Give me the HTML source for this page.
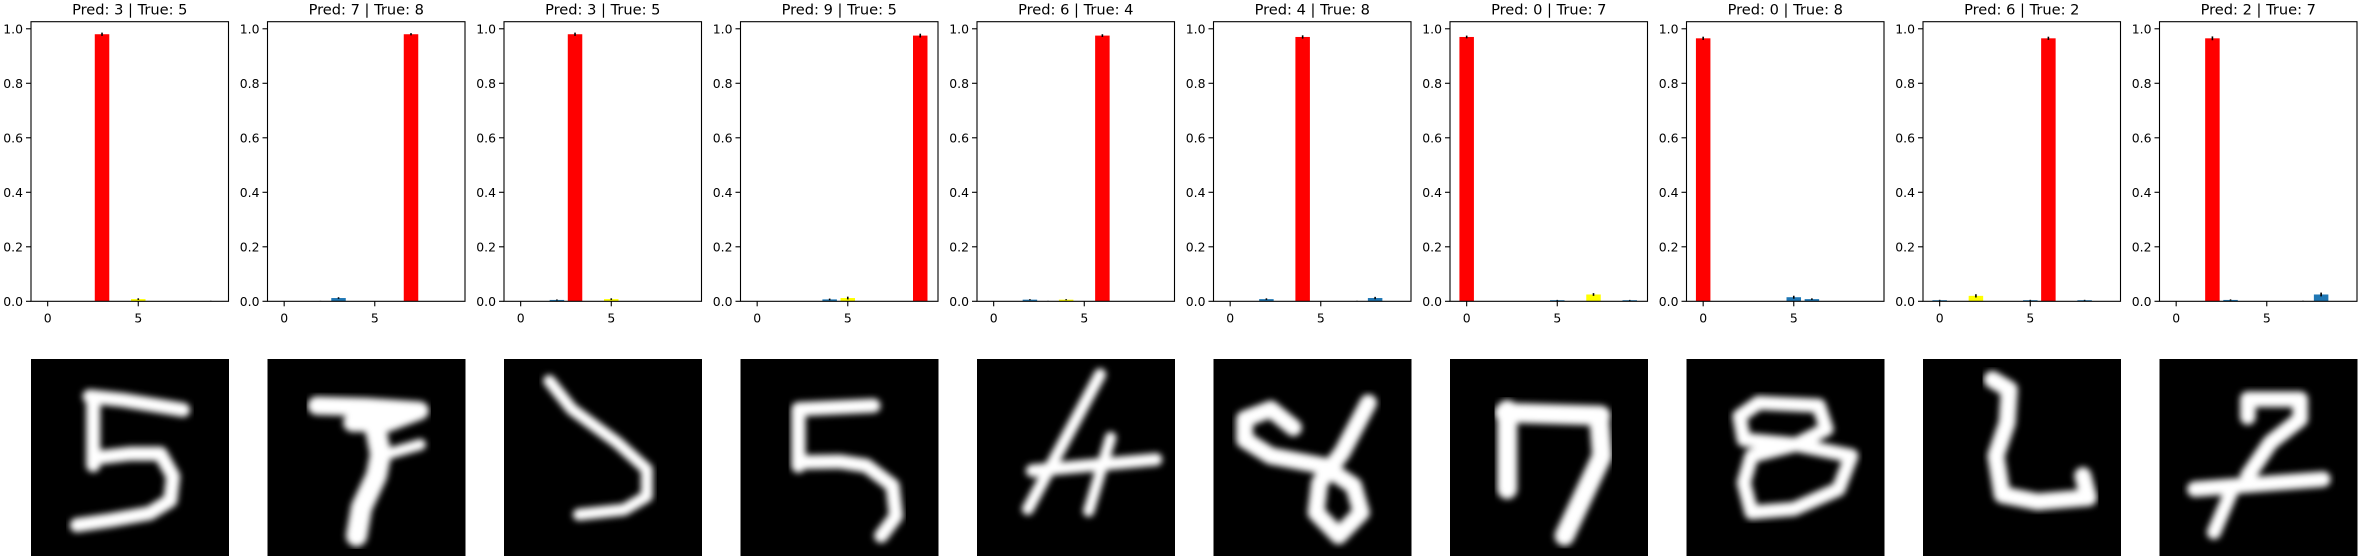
<!DOCTYPE html>
<html><head><meta charset="utf-8">
<style>
html,body{margin:0;padding:0;background:#fff;}
svg{display:block;}
text{font-family:"DejaVu Sans","Liberation Sans",sans-serif;fill:#000;}
</style></head>
<body>
<svg id="fig" width="2358" height="556" viewBox="0 0 2358 556" xmlns="http://www.w3.org/2000/svg">
<defs><filter id="soft" x="-10%" y="-10%" width="120%" height="120%"><feGaussianBlur stdDeviation="0.45"/></filter></defs>
</svg>
<script>
// ---- data ----
const classes = [0,1,2,3,4,5,6,7,8,9];
const preds = [3,7,3,9,6,4,0,0,6,2];
const trues = [5,8,5,5,4,8,7,8,2,7];
const probs1 = [0,0,0,0.98,0,0.008,0,0,0,0.001];
const probs2 = [0,0,0.001,0.012,0,0,0,0.98,0,0];
const probs3 = [0,0,0.005,0.98,0,0.008,0,0,0,0];
const probs4 = [0,0,0,0,0.007,0.012,0,0,0,0.975];
const probs5 = [0,0,0.006,0.001,0.006,0,0.975,0,0,0];
const probs6 = [0,0,0.008,0,0.97,0,0,0.001,0.012,0];
const probs7 = [0.97,0,0,0,0,0.004,0,0.025,0,0.004];
const probs8 = [0.965,0,0,0,0,0.015,0.008,0,0,0];
const probs9 = [0.004,0,0.02,0,0,0.004,0.965,0,0.004,0];
const probs10 = [0,0,0.965,0.005,0,0,0,0.001,0.025,0];
const errs = [0.006,0.004,0.006,0.007,0.005,0.006,0.005,0.006,0.006,0.007];
const allProbs = [probs1,probs2,probs3,probs4,probs5,probs6,probs7,probs8,probs9,probs10];
const yTicks = [0,0.2,0.4,0.6,0.8,1.0];
const yTickLabels = ["0.0","0.2","0.4","0.6","0.8","1.0"];
const xTicks = [0,5];
const xTickLabels = ["0","5"];
// which bars render yellow (as seen in the reference)
const yellowIdx = [[5],[],[5],[5],[4],[],[7],[],[2],[]];

// digit strokes in 28x28 grid coords: [strokeWidth, points...]
const digits = [
 [[2.0,[[8.3,5.3],[13,5.8],[21.5,7.2]]],[2.0,[[8.8,5.4],[8.8,15]]],[2.0,[[9,14],[14,13.4],[18.3,13.4],[20.1,16.6],[19.7,20],[16.8,21.8],[11.2,22.8],[6.5,23.5]]]],
 [[2.6,[[7,6.6],[14,6.8],[21.5,7.3],[17,9],[12,9]]],[3,[[15.2,9.5],[16,13.5],[15.4,16.5],[13.3,21],[12.6,25]]],[1.6,[[16,13.7],[21.6,12.1]]]],
 [[1.7,[[6.4,3.1],[9.6,7.1],[16,11.8],[20.2,15.6],[20.2,19.4],[17,21.3],[10.6,22]]]],
 [[2.0,[[18.8,6.6],[8.2,7.1],[8.2,15.1]]],[2.0,[[8.6,14.6],[14,14.5],[17.8,15.1],[21.5,17.9],[22,22.2],[19.9,25]]]],
 [[1.7,[[17.4,2.2],[7.2,21.2]]],[1.6,[[18.9,11.1],[15.8,21.5]]],[1.8,[[7.8,15.8],[25.3,14.2]]]],
 [[2.4,[[11.3,9.7],[8.1,7.1],[4.4,8.5],[4.4,11.4],[8.1,13.7],[15.5,15.1],[19.8,17.9],[20.9,21.7],[17.7,25],[14.5,21.7],[15,17.5],[18.2,13.2],[21.9,6.2]]]],
 [[2.8,[[8.1,7.2],[8.1,18.4]]],[2.8,[[7.7,7.6],[21.3,8.0]]],[2.8,[[21.1,8.5],[21.5,13.7],[16.2,25]]]],
 [[2.0,[[10.2,6.2],[18.7,6.6],[19.8,9.9],[15.5,12.1],[8.1,11.4],[7.5,8.1],[10.2,6.2]]],[2.0,[[15.5,12.1],[23.3,13.7],[21.5,18.4],[15.2,21.2],[9.2,21.7],[8.1,17.5],[9.2,13.7],[15.5,12.1]]]],
 [[2.4,[[9.8,2.9],[12.2,4.3],[11.9,9],[10.3,13.7],[11.2,19.2],[16.2,20.2],[23.4,19.6],[22.6,16.5]]]],
 [[2.2,[[12.5,8.2],[12.5,5.7],[19.9,5.7],[19.9,8.5],[15.7,11.8],[12.5,16.5]]],[2.2,[[5,18.4],[23.1,17]]],[2.0,[[10.3,18.4],[7.7,24.5]]]]
];

// ---- layout ----
const NS = "http://www.w3.org/2000/svg";
const svg = document.getElementById('fig');
const axLeft0 = 31, pitch = 236.5, axW = 197.5;
const axTop = 21.7, axBot = 301.3;
const yMin = 0, yMax = 1.026;
const xMin = -0.92, xMax = 9.98;
const imgTop = 359, imgSize = 198;
function mk(tag, attrs, parent){const e=document.createElementNS(NS,tag);for(const k in attrs)e.setAttribute(k,attrs[k]);(parent||svg).appendChild(e);return e;}

allProbs.forEach((probs, p) => {
  const L = axLeft0 + p*pitch;
  const sx = v => L + (v - xMin)/(xMax - xMin)*axW;
  const sy = v => axBot - (v - yMin)/(yMax - yMin)*(axBot - axTop);
  const g = mk('g', {});
  
  
  const t = mk('text', {x: L + axW/2, y: 14.5, 'text-anchor':'middle', 'font-size':'14.6'}, g);
  t.textContent = 'Pred: ' + preds[p] + ' | True: ' + trues[p];
  
  
  // bars
  classes.forEach((c, i) => {
    const v = probs[i];
    let col = '#1f77b4';
    if (yellowIdx[p].includes(c)) col = '#ffff00';
    if (c === preds[p]) col = '#ff0000';
    const w = 0.8;
    if (v > 0) {
      const r = mk('rect', {x: sx(c - w/2), y: sy(v), width: sx(c + w/2) - sx(c - w/2), height: sy(0) - sy(v), fill: col}, g);
      
      
    }
    const e = errs[p] * (v > 0.5 ? 1 : Math.max(0.15, Math.min(1, v*60)));
    const eb = mk('line', {x1: sx(c), x2: sx(c), y1: sy(v + e), y2: sy(Math.max(0, v - e)), stroke:'#000', 'stroke-width': 1.6}, g);
    
    
  });
  // axes frame
  const fr = mk('rect', {x: L, y: axTop, width: axW, height: axBot - axTop, fill:'none', stroke:'#000', 'stroke-width': 1.1}, g);
  
  
  yTicks.forEach((v, i) => {
    mk('line', {x1: L - 5, x2: L, y1: sy(v), y2: sy(v), stroke:'#000', 'stroke-width': 1.1}, g);
    const tl = mk('text', {x: L - 8, y: sy(v) + 4.5, 'text-anchor':'end', 'font-size':'12.4'}, g);
    tl.textContent = yTickLabels[i];
    
    
  });
  xTicks.forEach((v, i) => {
    mk('line', {x1: sx(v), x2: sx(v), y1: axBot, y2: axBot + 5, stroke:'#000', 'stroke-width': 1.1}, g);
    const tl = mk('text', {x: sx(v), y: axBot + 21, 'text-anchor':'middle', 'font-size':'12.4'}, g);
    tl.textContent = xTickLabels[i];
    
    
  });
  // digit image
  const ig = mk('svg', {x: L, y: imgTop, width: imgSize, height: imgSize, viewBox: '0 0 28 28'});
  
  
  mk('rect', {x:0, y:0, width:28, height:28, fill:'#000'}, ig);
  const sg = mk('g', {filter:'url(#soft)'}, ig);
  digits[p].forEach(s => {
    mk('polyline', {points: s[1].map(q => q.join(',')).join(' '), fill:'none', stroke:'#fff', 'stroke-width': s[0], 'stroke-linecap':'round', 'stroke-linejoin':'round'}, sg);
  });
});
</script>
</body></html>
